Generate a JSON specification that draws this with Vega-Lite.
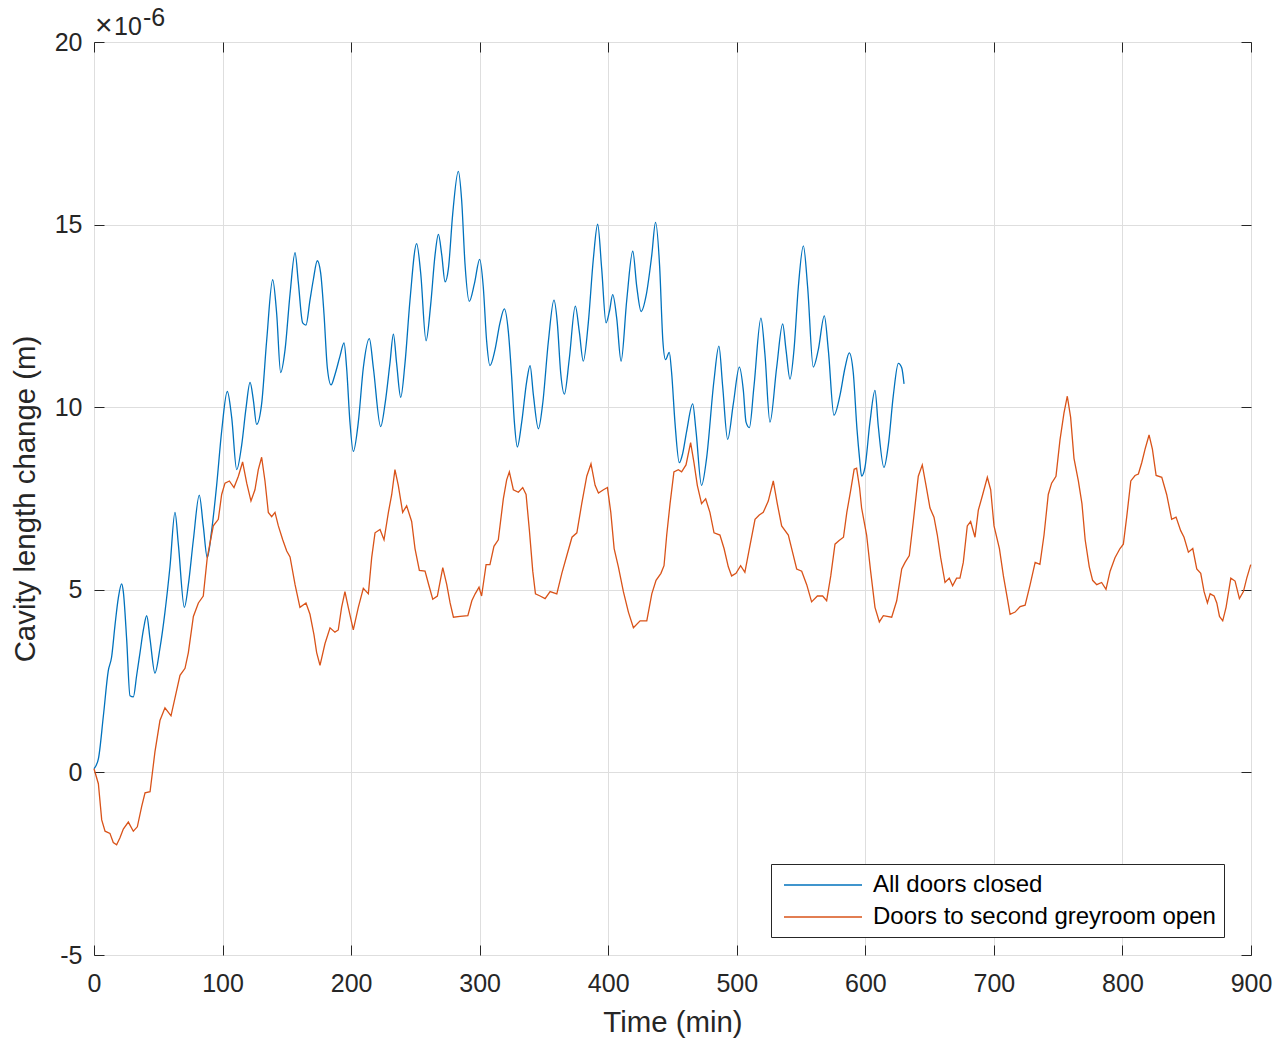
{
  "$schema": "https://vega.github.io/schema/vega-lite/v6.json",
  "autosize": "none",
  "width": 1157,
  "height": 913,
  "padding": {"left": 94, "top": 42, "right": 27, "bottom": 84},
  "background": "white",
  "config": {
    "font": "Liberation Sans",
    "view": {"stroke": "#262626", "strokeWidth": 1},
    "axis": {
      "labelFont": "Liberation Sans",
      "labelFontSize": 25,
      "labelColor": "#262626",
      "titleFont": "Liberation Sans",
      "titleFontSize": 29.4,
      "titleFontWeight": "normal",
      "titleColor": "#262626",
      "gridColor": "#dedede",
      "gridWidth": 1,
      "domain": false,
      "ticks": true,
      "tickColor": "#262626",
      "tickSize": -10,
      "tickWidth": 1,
      "labelFlush": false,
      "labelOverlap": false
    }
  },
  "datasets": {
    "closed": [
      {"time": 0, "change": 0.1}, {"time": 3.4, "change": 0.37}, {"time": 7.3, "change": 1.55},
      {"time": 11.1, "change": 2.78}, {"time": 13.7, "change": 3.16}, {"time": 16.3, "change": 4.02},
      {"time": 18.9, "change": 4.77}, {"time": 21.5, "change": 5.16}, {"time": 22.8, "change": 4.95},
      {"time": 25.4, "change": 3.65}, {"time": 28.0, "change": 2.1}, {"time": 30.6, "change": 2.07},
      {"time": 33.2, "change": 2.66}, {"time": 35.8, "change": 3.28}, {"time": 38.4, "change": 3.9},
      {"time": 41.0, "change": 4.29}, {"time": 43.6, "change": 3.65}, {"time": 47.4, "change": 2.72},
      {"time": 51.3, "change": 3.4}, {"time": 55.2, "change": 4.39}, {"time": 59.1, "change": 5.63},
      {"time": 63.0, "change": 7.12}, {"time": 65.6, "change": 6.25}, {"time": 70.3, "change": 4.52},
      {"time": 73.4, "change": 5.14}, {"time": 77.3, "change": 6.37}, {"time": 81.9, "change": 7.59},
      {"time": 85.0, "change": 6.75}, {"time": 88.1, "change": 5.88}, {"time": 91.5, "change": 6.62},
      {"time": 95.4, "change": 7.86}, {"time": 99.3, "change": 9.34}, {"time": 103.7, "change": 10.43},
      {"time": 107.1, "change": 9.72}, {"time": 111.0, "change": 8.29}, {"time": 114.9, "change": 8.97},
      {"time": 118.2, "change": 9.96}, {"time": 121.4, "change": 10.68}, {"time": 123.9, "change": 10.21},
      {"time": 126.5, "change": 9.53}, {"time": 130.4, "change": 10.09}, {"time": 134.3, "change": 11.82},
      {"time": 139.0, "change": 13.49}, {"time": 142.1, "change": 12.56}, {"time": 145.2, "change": 10.95},
      {"time": 148.6, "change": 11.57}, {"time": 152.5, "change": 13.1}, {"time": 156.4, "change": 14.23},
      {"time": 158.9, "change": 13.43}, {"time": 162.3, "change": 12.31}, {"time": 164.9, "change": 12.25},
      {"time": 168.0, "change": 12.93}, {"time": 170.6, "change": 13.49}, {"time": 173.7, "change": 14.01},
      {"time": 176.3, "change": 13.68}, {"time": 178.9, "change": 12.56}, {"time": 181.5, "change": 11.08},
      {"time": 184.4, "change": 10.61}, {"time": 187.4, "change": 10.89}, {"time": 191.3, "change": 11.39},
      {"time": 194.5, "change": 11.76}, {"time": 196.5, "change": 11.08}, {"time": 199.1, "change": 9.59},
      {"time": 201.7, "change": 8.79}, {"time": 205.6, "change": 9.59}, {"time": 209.5, "change": 11.08},
      {"time": 214.2, "change": 11.88}, {"time": 217.3, "change": 11.08}, {"time": 223.0, "change": 9.47},
      {"time": 226.4, "change": 10.09}, {"time": 230.2, "change": 11.2}, {"time": 232.9, "change": 12.0},
      {"time": 235.4, "change": 11.2}, {"time": 238.6, "change": 10.27}, {"time": 241.9, "change": 11.2},
      {"time": 245.8, "change": 12.93}, {"time": 251.0, "change": 14.48}, {"time": 254.1, "change": 13.68},
      {"time": 258.3, "change": 11.82}, {"time": 261.9, "change": 12.81}, {"time": 265.3, "change": 14.17},
      {"time": 267.9, "change": 14.73}, {"time": 270.5, "change": 14.17}, {"time": 273.1, "change": 13.43},
      {"time": 275.7, "change": 13.8}, {"time": 279.0, "change": 15.28}, {"time": 283.4, "change": 16.46},
      {"time": 286.0, "change": 15.66}, {"time": 288.6, "change": 13.92}, {"time": 291.9, "change": 12.9},
      {"time": 296.0, "change": 13.4}, {"time": 300.0, "change": 14.05}, {"time": 302.8, "change": 13.3},
      {"time": 305.4, "change": 11.82}, {"time": 308.0, "change": 11.14}, {"time": 311.9, "change": 11.57},
      {"time": 315.8, "change": 12.31}, {"time": 319.2, "change": 12.69}, {"time": 322.3, "change": 12.07},
      {"time": 324.9, "change": 10.83}, {"time": 327.0, "change": 9.59}, {"time": 329.3, "change": 8.91},
      {"time": 332.7, "change": 9.59}, {"time": 336.6, "change": 10.71}, {"time": 339.2, "change": 11.14},
      {"time": 341.8, "change": 10.33}, {"time": 345.7, "change": 9.41}, {"time": 349.0, "change": 10.09},
      {"time": 353.5, "change": 11.82}, {"time": 357.8, "change": 12.93}, {"time": 360.4, "change": 12.31},
      {"time": 363.0, "change": 10.95}, {"time": 365.9, "change": 10.36}, {"time": 369.7, "change": 11.32},
      {"time": 374.4, "change": 12.77}, {"time": 377.5, "change": 12.07}, {"time": 380.6, "change": 11.26},
      {"time": 384.5, "change": 12.31}, {"time": 388.4, "change": 14.05}, {"time": 391.8, "change": 15.01},
      {"time": 394.9, "change": 13.8}, {"time": 398.3, "change": 12.31}, {"time": 400.9, "change": 12.62},
      {"time": 403.5, "change": 13.08}, {"time": 406.6, "change": 12.44}, {"time": 410.0, "change": 11.26},
      {"time": 414.4, "change": 12.93}, {"time": 419.1, "change": 14.27}, {"time": 422.2, "change": 13.3},
      {"time": 425.6, "change": 12.62}, {"time": 429.5, "change": 13.06}, {"time": 433.9, "change": 14.17},
      {"time": 436.8, "change": 15.06}, {"time": 440.0, "change": 13.85}, {"time": 442.5, "change": 11.82},
      {"time": 444.6, "change": 11.3}, {"time": 447.5, "change": 11.5}, {"time": 449.3, "change": 10.95},
      {"time": 451.9, "change": 9.59}, {"time": 455.3, "change": 8.48}, {"time": 457.9, "change": 8.73},
      {"time": 461.0, "change": 9.34}, {"time": 465.7, "change": 10.09}, {"time": 468.3, "change": 9.34},
      {"time": 472.6, "change": 7.86}, {"time": 476.5, "change": 8.6}, {"time": 482.2, "change": 10.71},
      {"time": 486.1, "change": 11.67}, {"time": 489.0, "change": 10.58}, {"time": 492.9, "change": 9.12},
      {"time": 497.3, "change": 10.09}, {"time": 502.0, "change": 11.1}, {"time": 505.1, "change": 10.46},
      {"time": 507.2, "change": 9.59}, {"time": 509.8, "change": 9.44}, {"time": 513.4, "change": 10.58},
      {"time": 518.8, "change": 12.44}, {"time": 521.9, "change": 11.45}, {"time": 525.8, "change": 9.59},
      {"time": 531.0, "change": 11.08}, {"time": 535.7, "change": 12.28}, {"time": 538.3, "change": 11.57},
      {"time": 541.4, "change": 10.77}, {"time": 544.5, "change": 11.57}, {"time": 547.9, "change": 13.3},
      {"time": 551.8, "change": 14.42}, {"time": 555.1, "change": 13.3}, {"time": 559.5, "change": 11.1},
      {"time": 563.4, "change": 11.57}, {"time": 568.1, "change": 12.5}, {"time": 571.2, "change": 11.57},
      {"time": 575.6, "change": 9.78}, {"time": 580.3, "change": 10.33}, {"time": 584.2, "change": 11.08},
      {"time": 587.5, "change": 11.49}, {"time": 590.6, "change": 10.95}, {"time": 593.5, "change": 9.4},
      {"time": 595.5, "change": 8.6}, {"time": 597.1, "change": 8.11}, {"time": 599.7, "change": 8.35},
      {"time": 603.6, "change": 9.59}, {"time": 607.5, "change": 10.46}, {"time": 610.1, "change": 9.47},
      {"time": 614.5, "change": 8.35}, {"time": 617.9, "change": 8.97}, {"time": 621.8, "change": 10.33},
      {"time": 625.7, "change": 11.2}, {"time": 628.3, "change": 11.08}, {"time": 630.1, "change": 10.64}
    ],
    "open": [
      {"time": 0, "change": 0.1}, {"time": 3.4, "change": -0.31}, {"time": 6.0, "change": -1.3},
      {"time": 8.6, "change": -1.61}, {"time": 12.4, "change": -1.67}, {"time": 15.0, "change": -1.92},
      {"time": 17.6, "change": -1.98}, {"time": 20.2, "change": -1.79}, {"time": 22.8, "change": -1.55},
      {"time": 26.7, "change": -1.36}, {"time": 30.6, "change": -1.61}, {"time": 33.7, "change": -1.49},
      {"time": 37.1, "change": -0.93}, {"time": 39.7, "change": -0.56}, {"time": 43.6, "change": -0.53},
      {"time": 47.4, "change": 0.56}, {"time": 51.3, "change": 1.42}, {"time": 55.2, "change": 1.77},
      {"time": 59.9, "change": 1.55}, {"time": 63.0, "change": 2.04}, {"time": 66.9, "change": 2.66},
      {"time": 70.8, "change": 2.85}, {"time": 73.4, "change": 3.28}, {"time": 77.3, "change": 4.27},
      {"time": 81.2, "change": 4.64}, {"time": 85.0, "change": 4.83}, {"time": 88.1, "change": 5.88},
      {"time": 92.8, "change": 6.75}, {"time": 96.7, "change": 6.93}, {"time": 99.3, "change": 7.61},
      {"time": 101.9, "change": 7.92}, {"time": 105.3, "change": 7.98}, {"time": 108.9, "change": 7.8},
      {"time": 112.3, "change": 8.11}, {"time": 115.6, "change": 8.5}, {"time": 118.8, "change": 7.92},
      {"time": 122.1, "change": 7.43}, {"time": 125.2, "change": 7.74}, {"time": 127.8, "change": 8.29},
      {"time": 130.4, "change": 8.63}, {"time": 133.0, "change": 7.98}, {"time": 135.6, "change": 7.12},
      {"time": 138.2, "change": 7.0}, {"time": 140.8, "change": 7.12}, {"time": 143.4, "change": 6.75},
      {"time": 146.8, "change": 6.37}, {"time": 149.9, "change": 6.06}, {"time": 152.5, "change": 5.9},
      {"time": 156.4, "change": 5.14}, {"time": 160.2, "change": 4.52}, {"time": 164.9, "change": 4.64},
      {"time": 168.0, "change": 4.33}, {"time": 171.1, "change": 3.77}, {"time": 173.2, "change": 3.28},
      {"time": 175.8, "change": 2.93}, {"time": 179.7, "change": 3.53}, {"time": 183.6, "change": 3.96},
      {"time": 187.4, "change": 3.84}, {"time": 190.0, "change": 3.9}, {"time": 192.6, "change": 4.52},
      {"time": 195.2, "change": 4.95}, {"time": 197.8, "change": 4.52}, {"time": 201.7, "change": 3.9},
      {"time": 205.6, "change": 4.52}, {"time": 209.5, "change": 5.04}, {"time": 213.4, "change": 4.89},
      {"time": 216.0, "change": 5.88}, {"time": 218.6, "change": 6.56}, {"time": 222.5, "change": 6.65},
      {"time": 225.6, "change": 6.37}, {"time": 229.0, "change": 7.12}, {"time": 231.6, "change": 7.61},
      {"time": 234.1, "change": 8.29}, {"time": 236.7, "change": 7.86}, {"time": 240.1, "change": 7.12},
      {"time": 243.2, "change": 7.3}, {"time": 247.1, "change": 6.87}, {"time": 249.7, "change": 6.13},
      {"time": 253.1, "change": 5.53}, {"time": 257.5, "change": 5.51}, {"time": 260.9, "change": 5.07},
      {"time": 263.5, "change": 4.74}, {"time": 267.1, "change": 4.83}, {"time": 271.3, "change": 5.61},
      {"time": 274.4, "change": 5.14}, {"time": 277.0, "change": 4.64}, {"time": 279.6, "change": 4.25},
      {"time": 284.8, "change": 4.27}, {"time": 290.8, "change": 4.29}, {"time": 293.9, "change": 4.7},
      {"time": 296.5, "change": 4.89}, {"time": 299.5, "change": 5.07}, {"time": 301.5, "change": 4.83},
      {"time": 305.0, "change": 5.69}, {"time": 308.0, "change": 5.69}, {"time": 311.1, "change": 6.19},
      {"time": 314.5, "change": 6.37}, {"time": 318.4, "change": 7.49}, {"time": 321.0, "change": 8.01},
      {"time": 323.1, "change": 8.23}, {"time": 326.2, "change": 7.74}, {"time": 330.1, "change": 7.67},
      {"time": 333.5, "change": 7.8}, {"time": 336.1, "change": 7.61}, {"time": 338.7, "change": 6.62},
      {"time": 341.3, "change": 5.51}, {"time": 343.4, "change": 4.89}, {"time": 347.0, "change": 4.83},
      {"time": 350.9, "change": 4.76}, {"time": 354.8, "change": 4.95}, {"time": 360.0, "change": 4.89},
      {"time": 363.9, "change": 5.45}, {"time": 367.8, "change": 5.94}, {"time": 371.8, "change": 6.44},
      {"time": 375.6, "change": 6.56}, {"time": 379.4, "change": 7.36}, {"time": 383.3, "change": 8.11},
      {"time": 386.6, "change": 8.45}, {"time": 389.8, "change": 7.86}, {"time": 392.4, "change": 7.65},
      {"time": 396.3, "change": 7.74}, {"time": 399.4, "change": 7.8}, {"time": 402.0, "change": 7.12},
      {"time": 404.6, "change": 6.13}, {"time": 407.9, "change": 5.63}, {"time": 411.8, "change": 4.95},
      {"time": 415.7, "change": 4.39}, {"time": 419.6, "change": 3.96}, {"time": 424.8, "change": 4.15},
      {"time": 430.0, "change": 4.15}, {"time": 433.9, "change": 4.89}, {"time": 437.2, "change": 5.26},
      {"time": 441.0, "change": 5.45}, {"time": 443.4, "change": 5.66}, {"time": 445.5, "change": 6.5},
      {"time": 448.1, "change": 7.36}, {"time": 451.1, "change": 8.23}, {"time": 454.5, "change": 8.29},
      {"time": 457.1, "change": 8.23}, {"time": 460.5, "change": 8.42}, {"time": 464.1, "change": 9.03},
      {"time": 466.7, "change": 8.48}, {"time": 469.3, "change": 7.86}, {"time": 472.6, "change": 7.36},
      {"time": 475.8, "change": 7.49}, {"time": 479.1, "change": 7.12}, {"time": 482.3, "change": 6.56},
      {"time": 486.9, "change": 6.5}, {"time": 490.1, "change": 6.13}, {"time": 493.4, "change": 5.63},
      {"time": 496.0, "change": 5.38}, {"time": 499.4, "change": 5.45}, {"time": 503.0, "change": 5.66},
      {"time": 506.3, "change": 5.48}, {"time": 509.8, "change": 6.13}, {"time": 514.2, "change": 6.93},
      {"time": 517.5, "change": 7.05}, {"time": 520.6, "change": 7.12}, {"time": 524.5, "change": 7.43},
      {"time": 528.4, "change": 7.98}, {"time": 531.5, "change": 7.36}, {"time": 534.9, "change": 6.75},
      {"time": 540.1, "change": 6.5}, {"time": 542.7, "change": 6.13}, {"time": 546.6, "change": 5.57},
      {"time": 550.5, "change": 5.51}, {"time": 554.4, "change": 5.14}, {"time": 558.2, "change": 4.67},
      {"time": 562.7, "change": 4.83}, {"time": 566.8, "change": 4.83}, {"time": 569.9, "change": 4.7},
      {"time": 573.1, "change": 5.38}, {"time": 576.4, "change": 6.25}, {"time": 579.6, "change": 6.35},
      {"time": 583.0, "change": 6.44}, {"time": 585.6, "change": 7.12}, {"time": 588.5, "change": 7.7},
      {"time": 591.3, "change": 8.3}, {"time": 593.2, "change": 8.33}, {"time": 595.5, "change": 7.8},
      {"time": 597.1, "change": 7.24}, {"time": 601.0, "change": 6.5}, {"time": 604.1, "change": 5.51},
      {"time": 607.5, "change": 4.52}, {"time": 610.9, "change": 4.12}, {"time": 614.0, "change": 4.29},
      {"time": 620.5, "change": 4.25}, {"time": 624.4, "change": 4.7}, {"time": 628.3, "change": 5.57},
      {"time": 630.9, "change": 5.75}, {"time": 634.2, "change": 5.94}, {"time": 637.3, "change": 6.87},
      {"time": 641.2, "change": 8.11}, {"time": 644.3, "change": 8.42}, {"time": 647.2, "change": 7.86},
      {"time": 650.3, "change": 7.24}, {"time": 653.4, "change": 6.99}, {"time": 656.0, "change": 6.5},
      {"time": 658.6, "change": 5.88}, {"time": 662.0, "change": 5.2}, {"time": 665.3, "change": 5.32},
      {"time": 667.9, "change": 5.11}, {"time": 671.0, "change": 5.32}, {"time": 673.6, "change": 5.32},
      {"time": 676.2, "change": 5.75}, {"time": 679.3, "change": 6.75}, {"time": 681.9, "change": 6.87},
      {"time": 685.3, "change": 6.44}, {"time": 687.9, "change": 7.18}, {"time": 691.3, "change": 7.61},
      {"time": 694.9, "change": 8.08}, {"time": 697.5, "change": 7.74}, {"time": 700.1, "change": 6.75},
      {"time": 704.3, "change": 6.13}, {"time": 707.4, "change": 5.38}, {"time": 710.5, "change": 4.76},
      {"time": 712.6, "change": 4.33}, {"time": 716.5, "change": 4.39}, {"time": 720.4, "change": 4.54},
      {"time": 724.3, "change": 4.58}, {"time": 728.2, "change": 5.14}, {"time": 732.1, "change": 5.75},
      {"time": 735.8, "change": 5.7}, {"time": 739.0, "change": 6.5}, {"time": 742.3, "change": 7.61},
      {"time": 744.9, "change": 7.92}, {"time": 748.3, "change": 8.11}, {"time": 751.4, "change": 9.1},
      {"time": 754.5, "change": 9.84}, {"time": 757.1, "change": 10.3}, {"time": 759.7, "change": 9.72},
      {"time": 762.3, "change": 8.6}, {"time": 765.7, "change": 7.98}, {"time": 768.5, "change": 7.36},
      {"time": 771.0, "change": 6.37}, {"time": 774.2, "change": 5.63}, {"time": 776.8, "change": 5.26},
      {"time": 780.0, "change": 5.14}, {"time": 783.8, "change": 5.2}, {"time": 787.2, "change": 5.01},
      {"time": 790.4, "change": 5.51}, {"time": 794.2, "change": 5.88}, {"time": 798.1, "change": 6.13},
      {"time": 800.7, "change": 6.25}, {"time": 803.3, "change": 6.99}, {"time": 806.5, "change": 7.98},
      {"time": 809.8, "change": 8.13}, {"time": 812.4, "change": 8.17}, {"time": 815.0, "change": 8.48},
      {"time": 817.6, "change": 8.85}, {"time": 820.7, "change": 9.24}, {"time": 823.3, "change": 8.85},
      {"time": 826.2, "change": 8.13}, {"time": 830.6, "change": 8.08}, {"time": 834.4, "change": 7.61},
      {"time": 838.3, "change": 6.93}, {"time": 841.7, "change": 6.99}, {"time": 845.3, "change": 6.62},
      {"time": 847.9, "change": 6.44}, {"time": 851.3, "change": 6.03}, {"time": 854.7, "change": 6.13},
      {"time": 857.8, "change": 5.57}, {"time": 860.9, "change": 5.45}, {"time": 863.5, "change": 4.95},
      {"time": 866.1, "change": 4.64}, {"time": 868.2, "change": 4.89}, {"time": 871.3, "change": 4.83},
      {"time": 873.4, "change": 4.64}, {"time": 875.5, "change": 4.27}, {"time": 878.0, "change": 4.15},
      {"time": 880.6, "change": 4.52}, {"time": 884.3, "change": 5.32}, {"time": 887.6, "change": 5.24},
      {"time": 891.0, "change": 4.76}, {"time": 894.1, "change": 4.95}, {"time": 896.7, "change": 5.32},
      {"time": 899.8, "change": 5.69}
    ]
  },
  "layer": [
    {
      "data": {"name": "closed"},
      "mark": {"type": "line", "strokeWidth": 1.3, "interpolate": "monotone"},
      "encoding": {
        "x": {
          "field": "time", "type": "quantitative",
          "scale": {"domain": [0, 900], "nice": false, "zero": false},
          "axis": {
            "orient": "bottom", "values": [0, 100, 200, 300, 400, 500, 600, 700, 800, 900],
            "grid": true, "labelPadding": 26, "title": "Time (min)",
            "titleBaseline": "alphabetic", "titleY": 76
          }
        },
        "y": {
          "field": "change", "type": "quantitative",
          "scale": {"domain": [-5, 20], "nice": false, "zero": false},
          "axis": {
            "orient": "left", "values": [-5, 0, 5, 10, 15, 20],
            "labelExpr": "replace(datum.label, '−', '-')",
            "grid": true, "labelPadding": 22, "title": "Cavity length change (m)",
            "titleBaseline": "alphabetic", "titleX": -60, "titleY": 456.5
          }
        },
        "color": {
          "datum": "All doors closed", "type": "nominal",
          "scale": {
            "domain": ["All doors closed", "Doors to second greyroom open"],
            "range": ["#0072BD", "#D95319"]
          },
          "legend": {
            "title": null, "orient": "none", "legendX": 677, "legendY": 822,
            "strokeColor": "#262626", "fillColor": "white", "padding": 8,
            "symbolType": "M-3.25,0H3.25", "symbolSize": 576, "symbolStrokeWidth": 1.3,
            "symbolOffset": 31,
            "labelFont": "Liberation Sans", "labelFontSize": 24, "labelColor": "#000000",
            "labelLimit": 600, "labelOffset": 37, "rowPadding": 7
          }
        }
      }
    },
    {
      "data": {"name": "open"},
      "mark": {"type": "line", "strokeWidth": 1.3},
      "encoding": {
        "x": {
          "field": "time", "type": "quantitative",
          "axis": {"orient": "top", "values": [0, 100, 200, 300, 400, 500, 600, 700, 800, 900], "labels": false, "grid": false, "title": null}
        },
        "y": {
          "field": "change", "type": "quantitative",
          "axis": {"orient": "right", "values": [-5, 0, 5, 10, 15, 20], "labels": false, "grid": false, "title": null}
        },
        "color": {"datum": "Doors to second greyroom open", "type": "nominal"}
      }
    },
    {
      "data": {"values": [{}]},
      "mark": {"type": "text", "text": "×", "align": "left", "baseline": "alphabetic", "fontSize": 30, "font": "Liberation Sans", "color": "#262626", "dx": 1, "dy": -7},
      "encoding": {
        "x": {"datum": 0, "type": "quantitative", "axis": null},
        "y": {"datum": 20, "type": "quantitative", "axis": null}
      }
    },
    {
      "data": {"values": [{}]},
      "mark": {"type": "text", "text": "10", "align": "left", "baseline": "alphabetic", "fontSize": 25, "font": "Liberation Sans", "color": "#262626", "dx": 20, "dy": -7},
      "encoding": {
        "x": {"datum": 0, "type": "quantitative", "axis": null},
        "y": {"datum": 20, "type": "quantitative", "axis": null}
      }
    },
    {
      "data": {"values": [{}]},
      "mark": {"type": "text", "text": "-6", "align": "left", "baseline": "alphabetic", "fontSize": 25, "font": "Liberation Sans", "color": "#262626", "dx": 49, "dy": -16},
      "encoding": {
        "x": {"datum": 0, "type": "quantitative", "axis": null},
        "y": {"datum": 20, "type": "quantitative", "axis": null}
      }
    }
  ],
  "resolve": {"axis": {"x": "independent", "y": "independent"}}
}
